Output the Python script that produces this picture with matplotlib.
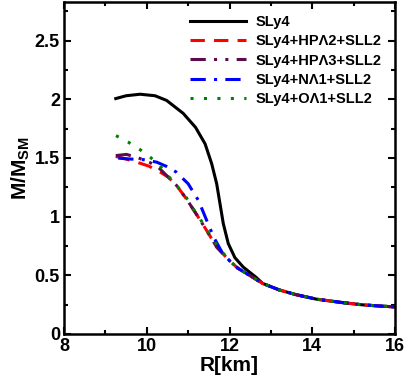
import matplotlib
matplotlib.use("Agg")
import matplotlib.pyplot as plt
from matplotlib.ticker import MultipleLocator

plt.rcParams["font.family"] = ["Liberation Sans", "DejaVu Sans"]
plt.rcParams["font.weight"] = "bold"
plt.rcParams["mathtext.fontset"] = "custom"
plt.rcParams["mathtext.rm"] = "Liberation Sans:bold"
plt.rcParams["mathtext.bf"] = "Liberation Sans:bold"

# ── data (R in km, M/M_sun) ──
R_tail = [12.0, 12.2, 12.5, 12.8, 13.2, 13.6, 14.1, 14.7, 15.2, 15.6, 16.0]
M_tail = [0.624, 0.56, 0.495, 0.43, 0.375, 0.335, 0.296, 0.268, 0.248, 0.238, 0.23]

R_sly4 = [9.25, 9.5, 9.84, 10.2, 10.48, 10.88, 11.18, 11.41, 11.57, 11.69, 11.77,
          11.85, 11.97, 12.13, 12.33, 12.65] + R_tail[3:]
M_sly4 = [2.006, 2.03, 2.043, 2.03, 1.99, 1.88, 1.76, 1.62, 1.45, 1.28, 1.11,
          0.94, 0.77, 0.65, 0.57, 0.48] + M_tail[3:]

R_hp2 = [9.25, 9.5, 9.76, 10.05, 10.32, 10.52, 10.72, 10.96, 11.2, 11.45, 11.69, 11.85] + R_tail
M_hp2 = [1.513, 1.49, 1.464, 1.43, 1.38, 1.336, 1.265, 1.15, 1.02, 0.88, 0.74, 0.68] + M_tail

R_hp3 = [9.25, 9.51, 9.8, 10.08, 10.29, 10.52, 10.72, 10.96, 11.2, 11.45, 11.69, 11.85] + R_tail
M_hp3 = [1.52, 1.53, 1.50, 1.46, 1.416, 1.336, 1.265, 1.15, 1.02, 0.88, 0.74, 0.68] + M_tail

R_nl1 = [9.31, 9.63, 9.92, 10.24, 10.48, 10.71, 11.0, 11.25, 11.45, 11.62, 11.82] + R_tail
M_nl1 = [1.498, 1.49, 1.485, 1.464, 1.427, 1.38, 1.28, 1.137, 0.966, 0.823, 0.695] + M_tail

R_ol1 = [9.256, 9.55, 9.82, 10.08, 10.31, 10.52, 10.74, 10.95, 11.12, 11.29, 11.46,
         11.65, 11.83] + R_tail
M_ol1 = [1.69, 1.635, 1.575, 1.507, 1.436, 1.345, 1.256, 1.165, 1.066, 0.98, 0.88,
         0.78, 0.695] + M_tail

labels = ["SLy4", "SLy4+HP\u039b2+SLL2", "SLy4+HP\u039b3+SLL2",
          "SLy4+N\u039b1+SLL2", "SLy4+O\u039b1+SLL2"]

LW = 2.2
fig = plt.figure(figsize=(4.08, 3.82), dpi=100)
ax = fig.add_axes([0.157, 0.126, 0.811, 0.869])

ax.plot(R_sly4, M_sly4, "-", color="black", lw=LW, label=labels[0])
ax.plot(R_hp2, M_hp2, color="red", lw=LW, dashes=(4.7, 3), label=labels[1])
ax.plot(R_hp3, M_hp3, color="#5c0a4a", lw=LW,
        dashes=(5, 2.7, 1, 2.7, 1, 2.7), label=labels[2])
ax.plot(R_nl1, M_nl1, color="blue", lw=LW, dashes=(5, 2.7, 1, 2.7), label=labels[3])
ax.plot(R_ol1, M_ol1, color="green", lw=LW, dashes=(1, 3.4), label=labels[4])

ax.set_xlim(8, 16)
ax.set_ylim(0, 2.83)
ax.xaxis.set_major_locator(MultipleLocator(2))
ax.xaxis.set_minor_locator(MultipleLocator(1))
ax.yaxis.set_minor_locator(MultipleLocator(0.25))
ax.set_yticks([0, 0.5, 1, 1.5, 2, 2.5])
ax.set_yticklabels(["0", "0.5", "1", "1.5", "2", "2.5"])
ax.tick_params(which="both", direction="in", top=True, right=True, width=1.5,
               labelsize=13, pad=3)
ax.tick_params(which="major", length=5)
ax.tick_params(which="minor", length=3)
for lab in ax.get_xticklabels() + ax.get_yticklabels():
    lab.set_fontweight("bold")
for sp in ax.spines.values():
    sp.set_linewidth(1.8)

ax.set_xlabel("R[km]", fontsize=15, fontweight="bold", labelpad=1)
ax.set_ylabel("M/M$_{\\mathbf{SM}}$", fontsize=15, fontweight="bold", labelpad=2)

ax.legend(loc="upper right", frameon=False, handlelength=3.8,
          handletextpad=0.7, labelspacing=0.36, borderaxespad=0.5,
          prop={"weight": "bold", "size": 10.5})

fig.savefig("out.png", dpi=100)
